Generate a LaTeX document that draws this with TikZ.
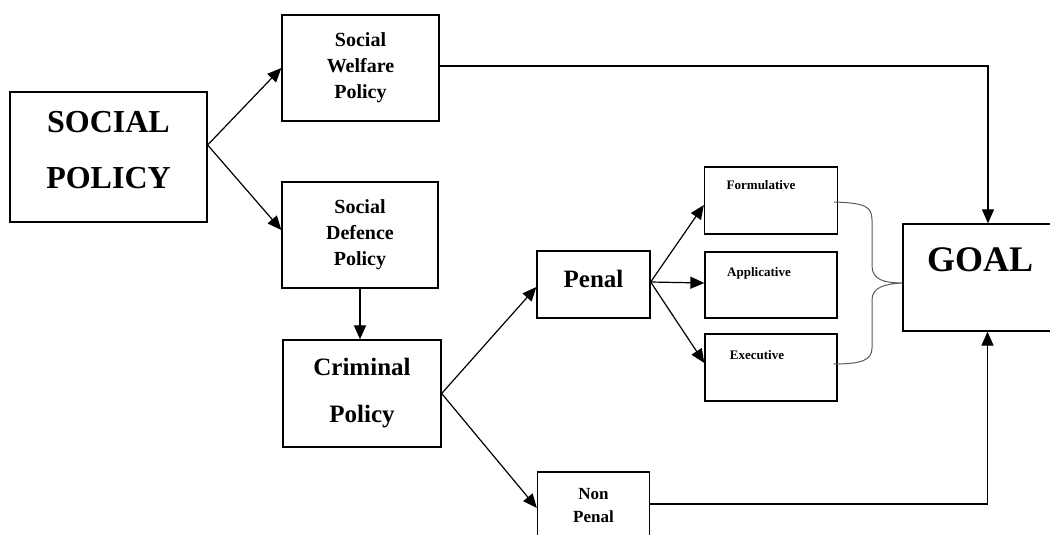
\documentclass[tikz,border=0pt]{standalone}
\usepackage{fontspec}
\setmainfont{Liberation Serif}
\usetikzlibrary{arrows.meta,positioning}

\begin{document}
\begin{tikzpicture}[x=1pt,y=-1pt,
  box/.style={draw,line width=1.3pt,inner sep=0pt,align=center},
  lbl/.style={inner sep=0pt,font=\bfseries\fontsize{13}{15}\selectfont},
  arr/.style={-{Triangle[length=14pt,width=12pt]},line width=1.2pt}]
\useasboundingbox (0,0) rectangle (1050,535);
% boxes
\node[box,minimum width=197pt,minimum height=130pt,text depth=15pt,font=\bfseries\fontsize{32}{56}\selectfont] (soc) at (108.5,157) {SOCIAL\\POLICY};
\node[box,minimum width=157pt,minimum height=106pt,font=\bfseries\fontsize{20}{26}\selectfont] (welf) at (360.5,68) {Social\\Welfare\\Policy};
\node[box,minimum width=156pt,minimum height=106pt,font=\bfseries\fontsize{20}{26}\selectfont] (def) at (360,235) {Social\\Defence\\Policy};
\node[box,minimum width=158pt,minimum height=107pt,font=\bfseries\fontsize{25}{47}\selectfont] (crim) at (362,393.5) {Criminal\\Policy};
\node[box,minimum width=113pt,minimum height=67pt,text depth=11pt,font=\bfseries\fontsize{25}{30}\selectfont] (penal) at (593.5,284.5) {Penal};
\node[box,minimum width=112pt,minimum height=67pt,font=\bfseries\fontsize{17}{23}\selectfont] (nonpen) at (593.5,505.5) {Non\\Penal};
\node[box,minimum width=133pt,minimum height=67pt] (form) at (771,200.5) {};
\node[box,minimum width=132pt,minimum height=66pt] (appl) at (771,285) {};
\node[box,minimum width=132pt,minimum height=67pt] (exec) at (771,367.5) {};
\node[box,minimum width=149pt,minimum height=107pt] (goal) at (977.5,277.5) {};
% texts
\node[lbl] (formtxt) at (761,185) {Formulative};
\node[lbl] (appltxt) at (759,273) {Applicative};
\node[lbl] (exectxt) at (757,355) {Executive};
\node[inner sep=0pt,font=\bfseries\fontsize{36}{40}\selectfont] (goaltxt) at (980,260) {GOAL};
% arrows
\draw[arr] ([yshift=12pt]soc.east) -- (welf.west);
\draw[arr] ([yshift=12pt]soc.east) -- ([yshift=5pt]def.west);
\draw[arr] (def.south) -- (def.south |- crim.north);
\draw[arr] (crim.east) -- ([yshift=-2.5pt]penal.west);
\draw[arr] (crim.east) -- ([yshift=-2.5pt]nonpen.west);
\draw[arr] ([yshift=2.5pt]penal.east) -- ([yshift=-4.5pt]form.west);
\draw[arr] ([yshift=2.5pt]penal.east) -- ([yshift=2pt]appl.west);
\draw[arr] ([yshift=2.5pt]penal.east) -- ([yshift=4.5pt]exec.west);
\draw[arr] ([yshift=2pt]welf.east) -| ([xshift=10.5pt]goal.north);
\draw[arr] ([yshift=1.5pt]nonpen.east) -| ([xshift=10pt]goal.south);
% brace
\draw[line width=1pt,gray!70!black] ([xshift=-4pt,yshift=-1.5pt]form.east) .. controls (864,203) and (872,206) .. (872,220) -- (872,266) .. controls (872,280) and (885,283) .. ([yshift=-5.5pt]goal.west) .. controls (885,284) and (872,287) .. (872,300) -- (872,348) .. controls (872,360) and (862,364) .. ([xshift=-4pt,yshift=3.5pt]exec.east);
\end{tikzpicture}
\end{document}
